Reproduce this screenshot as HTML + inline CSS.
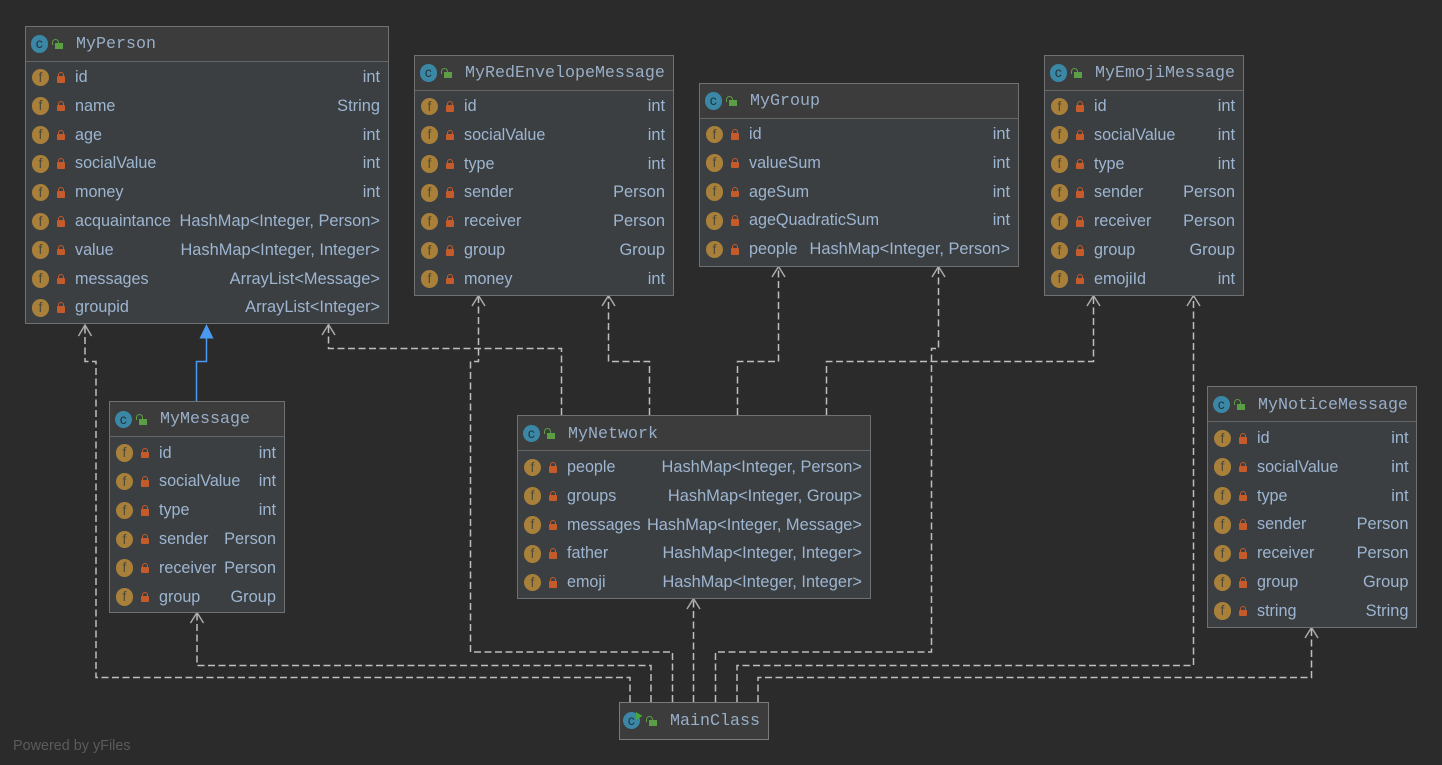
<!DOCTYPE html>
<html><head><meta charset="utf-8"><style>
html,body{margin:0;padding:0;background:#2b2b2b;width:1442px;height:765px;overflow:hidden}
.box{position:absolute;box-sizing:border-box;border:1.5px solid #6f7172;background:#3c3f41;font-family:"Liberation Sans",sans-serif;font-size:16.4px;color:#9db5d1}
.h{position:absolute;left:0;right:0;top:0;height:34px;background:#3c3c3c;border-bottom:1.5px solid #646565;font:16.67px/36px "Liberation Mono",monospace;color:#98aec8;padding-left:50px}
.c{position:absolute;left:4.5px;top:8.5px;width:17.5px;height:17.5px;border-radius:50%;background:#3a87a6;color:#25343b;font:14px/16.5px "Liberation Sans",sans-serif;text-align:center;text-decoration:none}
.o{position:absolute;left:28.5px;top:16.5px;width:8px;height:6px;background:#5c9e45}
.o:before{content:"";position:absolute;left:-3px;top:-4.5px;width:7px;height:6px;border:1.5px solid #5c9e45;border-bottom:0;border-radius:4px 4px 0 0;box-sizing:border-box}
.r{position:absolute;left:0;right:0;height:28.8px;line-height:29.5px}
.r i{position:absolute;left:5.7px;top:5.7px;width:17.5px;height:17.5px;border-radius:50%;background:#a8803a;color:#4f4a38;font:14px/17.5px "Liberation Sans",sans-serif;text-align:center}
.r b{position:absolute;left:30.5px;top:13px;width:8px;height:6.5px;background:#c55a2b;border-radius:1px}
.r b:before{content:"";position:absolute;left:1px;top:-4px;width:6px;height:5px;box-sizing:border-box;border:1.5px solid #c55a2b;border-bottom:0;border-radius:3px 3px 0 0}
.r span{position:absolute;left:49px;font-size:16.15px}
.r em{position:absolute;right:7.5px;font-style:normal}
#wm{position:absolute;left:13px;top:738px;font:14.4px "Liberation Sans",sans-serif;color:#5b5b5b}
svg{position:absolute;left:0;top:0}
</style></head><body>
<svg width="1442" height="765" fill="none">
<g stroke="#bdbdbd" stroke-width="1.5" stroke-dasharray="7 3.5">
<path d="M630 702V677.5H96V361.5H85V326"/>
<path d="M651 702V665.5H197V614"/>
<path d="M672.5 702V652H470.5V361.5H478.5V297"/>
<path d="M693.5 702V600"/>
<path d="M715.5 702V652H931.5V348.5H938.5V268"/>
<path d="M737 702V665.5H1193.5V297"/>
<path d="M758 702V677.5H1311.5V629"/>
<path d="M561.5 415V348.5H328.5V326"/>
<path d="M649.5 415V361.5H608.5V297"/>
<path d="M737.5 415V361.5H778.5V268"/>
<path d="M826.5 415V361.5H1093.5V297"/>
</g>
<g stroke="#aaaaaa" stroke-width="1.5">
<path d="M78.500 336L85 325L91.500 336"/>
<path d="M190.500 623L197 612.500L203.500 623"/>
<path d="M472 306L478.500 295.500L485 306"/>
<path d="M687 609L693.500 598.500L700 609"/>
<path d="M932 277L938.500 266.500L945 277"/>
<path d="M1187 306L1193.500 295.500L1200 306"/>
<path d="M1305 638L1311.500 627.500L1318 638"/>
<path d="M322 335L328.500 324.500L335 335"/>
<path d="M602 306L608.500 295.500L615 306"/>
<path d="M772 277L778.500 266.500L785 277"/>
<path d="M1087 306L1093.500 295.500L1100 306"/>
</g>
<path d="M196.500 401V361.500H206.500V338" stroke="#4a9bf0" stroke-width="1.5"/>
<path d="M206.500 324L213.500 338.500H199.500Z" fill="#4a9bf0"/>
</svg>

<div class="box" style="left:25px;top:25.500px;width:363.500px;height:298.500px">
<div class="h"><u class="c">c</u><u class="o"></u>MyPerson</div>
<div class="r" style="top:36.500px"><i>f</i><b></b><span>id</span><em>int</em></div>
<div class="r" style="top:65.300px"><i>f</i><b></b><span>name</span><em>String</em></div>
<div class="r" style="top:94.100px"><i>f</i><b></b><span>age</span><em>int</em></div>
<div class="r" style="top:122.900px"><i>f</i><b></b><span>socialValue</span><em>int</em></div>
<div class="r" style="top:151.700px"><i>f</i><b></b><span>money</span><em>int</em></div>
<div class="r" style="top:180.500px"><i>f</i><b></b><span>acquaintance</span><em>HashMap&lt;Integer, Person&gt;</em></div>
<div class="r" style="top:209.300px"><i>f</i><b></b><span>value</span><em>HashMap&lt;Integer, Integer&gt;</em></div>
<div class="r" style="top:238.100px"><i>f</i><b></b><span>messages</span><em>ArrayList&lt;Message&gt;</em></div>
<div class="r" style="top:266.900px"><i>f</i><b></b><span>groupid</span><em>ArrayList&lt;Integer&gt;</em></div>
</div>

<div class="box" style="left:414px;top:54.500px;width:259.500px;height:241px">
<div class="h"><u class="c">c</u><u class="o"></u>MyRedEnvelopeMessage</div>
<div class="r" style="top:36.500px"><i>f</i><b></b><span>id</span><em>int</em></div>
<div class="r" style="top:65.300px"><i>f</i><b></b><span>socialValue</span><em>int</em></div>
<div class="r" style="top:94.100px"><i>f</i><b></b><span>type</span><em>int</em></div>
<div class="r" style="top:122.900px"><i>f</i><b></b><span>sender</span><em>Person</em></div>
<div class="r" style="top:151.700px"><i>f</i><b></b><span>receiver</span><em>Person</em></div>
<div class="r" style="top:180.500px"><i>f</i><b></b><span>group</span><em>Group</em></div>
<div class="r" style="top:209.300px"><i>f</i><b></b><span>money</span><em>int</em></div>
</div>

<div class="box" style="left:699px;top:82.500px;width:319.500px;height:184px">
<div class="h"><u class="c">c</u><u class="o"></u>MyGroup</div>
<div class="r" style="top:36.500px"><i>f</i><b></b><span>id</span><em>int</em></div>
<div class="r" style="top:65.300px"><i>f</i><b></b><span>valueSum</span><em>int</em></div>
<div class="r" style="top:94.100px"><i>f</i><b></b><span>ageSum</span><em>int</em></div>
<div class="r" style="top:122.900px"><i>f</i><b></b><span>ageQuadraticSum</span><em>int</em></div>
<div class="r" style="top:151.700px"><i>f</i><b></b><span>people</span><em>HashMap&lt;Integer, Person&gt;</em></div>
</div>

<div class="box" style="left:1044px;top:54.500px;width:199.500px;height:241px">
<div class="h"><u class="c">c</u><u class="o"></u>MyEmojiMessage</div>
<div class="r" style="top:36.500px"><i>f</i><b></b><span>id</span><em>int</em></div>
<div class="r" style="top:65.300px"><i>f</i><b></b><span>socialValue</span><em>int</em></div>
<div class="r" style="top:94.100px"><i>f</i><b></b><span>type</span><em>int</em></div>
<div class="r" style="top:122.900px"><i>f</i><b></b><span>sender</span><em>Person</em></div>
<div class="r" style="top:151.700px"><i>f</i><b></b><span>receiver</span><em>Person</em></div>
<div class="r" style="top:180.500px"><i>f</i><b></b><span>group</span><em>Group</em></div>
<div class="r" style="top:209.300px"><i>f</i><b></b><span>emojiId</span><em>int</em></div>
</div>

<div class="box" style="left:109px;top:401px;width:175.500px;height:212px">
<div class="h"><u class="c">c</u><u class="o"></u>MyMessage</div>
<div class="r" style="top:36.500px"><i>f</i><b></b><span>id</span><em>int</em></div>
<div class="r" style="top:65.300px"><i>f</i><b></b><span>socialValue</span><em>int</em></div>
<div class="r" style="top:94.100px"><i>f</i><b></b><span>type</span><em>int</em></div>
<div class="r" style="top:122.900px"><i>f</i><b></b><span>sender</span><em>Person</em></div>
<div class="r" style="top:151.700px"><i>f</i><b></b><span>receiver</span><em>Person</em></div>
<div class="r" style="top:180.500px"><i>f</i><b></b><span>group</span><em>Group</em></div>
</div>

<div class="box" style="left:517px;top:415px;width:353.500px;height:184px">
<div class="h" style="line-height:37.5px"><u class="c">c</u><u class="o"></u>MyNetwork</div>
<div class="r" style="top:37px"><i>f</i><b></b><span>people</span><em>HashMap&lt;Integer, Person&gt;</em></div>
<div class="r" style="top:65.800px"><i>f</i><b></b><span>groups</span><em>HashMap&lt;Integer, Group&gt;</em></div>
<div class="r" style="top:94.600px"><i>f</i><b></b><span>messages</span><em>HashMap&lt;Integer, Message&gt;</em></div>
<div class="r" style="top:123.400px"><i>f</i><b></b><span>father</span><em>HashMap&lt;Integer, Integer&gt;</em></div>
<div class="r" style="top:152.200px"><i>f</i><b></b><span>emoji</span><em>HashMap&lt;Integer, Integer&gt;</em></div>
</div>

<div class="box" style="left:1207px;top:386px;width:210px;height:242px">
<div class="h" style="line-height:37.5px"><u class="c">c</u><u class="o"></u>MyNoticeMessage</div>
<div class="r" style="top:37px"><i>f</i><b></b><span>id</span><em>int</em></div>
<div class="r" style="top:65.800px"><i>f</i><b></b><span>socialValue</span><em>int</em></div>
<div class="r" style="top:94.600px"><i>f</i><b></b><span>type</span><em>int</em></div>
<div class="r" style="top:123.400px"><i>f</i><b></b><span>sender</span><em>Person</em></div>
<div class="r" style="top:152.200px"><i>f</i><b></b><span>receiver</span><em>Person</em></div>
<div class="r" style="top:181px"><i>f</i><b></b><span>group</span><em>Group</em></div>
<div class="r" style="top:209.800px"><i>f</i><b></b><span>string</span><em>String</em></div>
</div>

<div class="box" style="left:619px;top:702px;width:149.500px;height:37.500px;border-color:#7a7a7a">
<div class="h" style="height:34.500px;border-bottom:0;line-height:38px"><u class="c" style="left:2.500px;top:8.500px">c</u><u class="o" style="top:17px"></u>MainClass</div>
</div>
<svg width="1442" height="765"><path d="M636 712L642.500 716L636 720Z" fill="#46a83a"/></svg>
<div id="wm">Powered by yFiles</div>
</body></html>
